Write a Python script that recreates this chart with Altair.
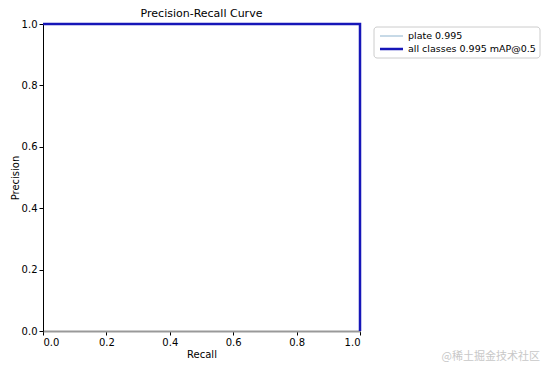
import altair as alt
import pandas as pd

series = ["plate 0.995", "all classes 0.995 mAP@0.5"]
recall = [0.0, 1.0, 1.0]
precision = [1.0, 1.0, 0.0]
colors = ["#8fb4cf", "#1616b8"]
widths = [1, 2.5]
ticks = [0.0, 0.2, 0.4, 0.6, 0.8, 1.0]

rows = []
for si, s in enumerate(series):
    for i, (r, p) in enumerate(zip(recall, precision)):
        rows.append({"series": s, "order": si, "idx": i, "recall": r, "precision": p})
df = pd.DataFrame(rows)

font = "DejaVu Sans"

lines = alt.Chart(df).mark_line(strokeCap="butt", strokeJoin="miter").encode(
    x=alt.X("recall:Q", scale=alt.Scale(domain=[0, 1], nice=False, zero=False),
            axis=alt.Axis(values=ticks, format=".1f", title="Recall", grid=False,
                          domainColor="#999999", domainWidth=2, tickColor="#000",
                          labelFont=font, titleFont=font, labelFontSize=10, titleFontSize=10,
                          titleFontWeight="normal", labelColor="#000", titleColor="#000",
                          tickSize=4, labelPadding=2, titlePadding=2)),
    y=alt.Y("precision:Q", scale=alt.Scale(domain=[0, 1], nice=False, zero=False),
            axis=alt.Axis(values=ticks, format=".1f", title="Precision", grid=False,
                          domainColor="#000", tickColor="#000",
                          labelFont=font, titleFont=font, labelFontSize=10, titleFontSize=10,
                          titleFontWeight="normal", labelColor="#000", titleColor="#000",
                          tickSize=4, labelPadding=2, titlePadding=1)),
    color=alt.Color("series:N", scale=alt.Scale(domain=series, range=colors), legend=None),
    strokeWidth=alt.StrokeWidth("series:N", scale=alt.Scale(domain=series, range=widths),
                                legend=None),
    detail="series:N",
    order="idx:Q",
)

# manual legend (matplotlib style box)
one = pd.DataFrame({"k": [0]})
legend_layers = [
    alt.Chart(one).mark_rect(fill="white", stroke="#cccccc", strokeWidth=1, cornerRadius=3).encode(
        x=alt.value(331), x2=alt.value(497), y=alt.value(3), y2=alt.value(34))
]
row_y = [12, 25]
for s, c, w, ry in zip(series, colors, widths, row_y):
    legend_layers.append(
        alt.Chart(one).mark_rule(color=c, strokeWidth=w).encode(
            x=alt.value(337), x2=alt.value(360), y=alt.value(ry)))
    legend_layers.append(
        alt.Chart(pd.DataFrame({"t": [s]})).mark_text(
            align="left", baseline="middle", font=font, fontSize=9.5, color="#000"
        ).encode(text="t:N", x=alt.value(365), y=alt.value(ry)))

title = alt.Chart(pd.DataFrame({"t": ["Precision-Recall Curve"]})).mark_text(
    align="center", baseline="middle", font=font, fontSize=11, color="#000"
).encode(text="t:N", x=alt.value(158.5), y=alt.value(-10))

watermark = alt.Chart(pd.DataFrame({"t": ["@稀土掘金技术社区"]})).mark_text(
    align="right", baseline="middle", font="Noto Sans CJK SC", fontSize=11, color="#c8c8c8"
).encode(text="t:N", x=alt.value(497), y=alt.value(333))

chart = alt.layer(lines, title, watermark, *legend_layers).properties(
    width=317, height=307,
    autosize=alt.AutoSizeParams(type="none"),
    padding={"left": 35, "top": 16, "right": 185, "bottom": 36},
).configure_view(stroke=None).configure(background="white")

chart.save("out.html", embed_options={"renderer": "svg", "actions": False})
